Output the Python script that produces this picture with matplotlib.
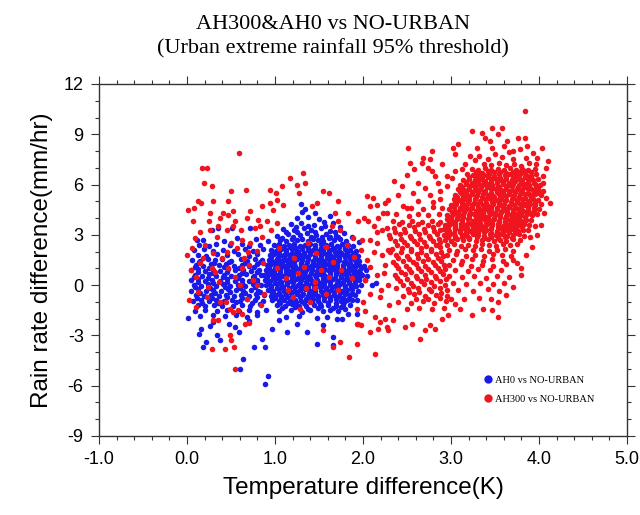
import numpy as np
import matplotlib
matplotlib.use('Agg')
import matplotlib.pyplot as plt
from matplotlib.lines import Line2D
from matplotlib.ticker import MultipleLocator

# (temperature difference K, rain rate difference mm/hr)

# AH0 vs NO-URBAN
ah0_core = [
    (1.06,2.72),(1.13,2.65),(1.19,2.78),(1.25,2.69),(1.31,2.74),(1.37,2.63),(1.43,2.77),(1.49,2.70),(1.55,2.66),(1.61,2.79),(1.67,2.68),(1.74,2.73),(1.81,2.64),
    (0.99,2.38),(1.04,2.45),(1.10,2.36),(1.16,2.42),(1.22,2.47),(1.28,2.35),(1.34,2.41),(1.40,2.46),(1.46,2.37),(1.52,2.43),(1.58,2.39),(1.64,2.48),(1.70,2.36),(1.76,2.44),(1.83,2.40),(1.89,2.35),
    (0.96,2.12),(1.01,2.06),(1.07,2.15),(1.13,2.08),(1.19,2.13),(1.25,2.05),(1.31,2.16),(1.37,2.09),(1.43,2.11),(1.49,2.04),(1.55,2.14),(1.61,2.07),(1.67,2.12),(1.73,2.06),(1.79,2.15),(1.85,2.09),(1.92,2.03),
    (0.94,1.78),(0.99,1.84),(1.04,1.75),(1.10,1.82),(1.16,1.77),(1.22,1.85),(1.28,1.79),(1.34,1.74),(1.40,1.83),(1.46,1.76),(1.52,1.81),(1.58,1.86),(1.64,1.75),(1.70,1.80),(1.76,1.84),(1.82,1.77),(1.88,1.82),(1.94,1.76),
    (0.93,1.51),(0.97,1.45),(1.02,1.54),(1.07,1.47),(1.13,1.52),(1.19,1.44),(1.25,1.55),(1.31,1.48),(1.37,1.53),(1.43,1.46),(1.49,1.51),(1.55,1.45),(1.61,1.54),(1.67,1.49),(1.73,1.52),(1.79,1.46),(1.85,1.55),(1.91,1.48),(1.96,1.43),
    (0.91,1.18),(0.96,1.24),(1.01,1.16),(1.05,1.22),(1.11,1.15),(1.17,1.23),(1.23,1.17),(1.29,1.25),(1.35,1.19),(1.41,1.14),(1.47,1.22),(1.53,1.17),(1.59,1.24),(1.65,1.15),(1.71,1.21),(1.77,1.18),(1.83,1.25),(1.89,1.16),(1.95,1.22),(2.01,1.13),
    (0.90,0.92),(0.95,0.86),(1.00,0.94),(1.06,0.88),(1.12,0.93),(1.18,0.85),(1.24,0.91),(1.30,0.87),(1.36,0.95),(1.42,0.89),(1.48,0.84),(1.54,0.93),(1.60,0.88),(1.66,0.94),(1.72,0.86),(1.78,0.91),(1.84,0.85),(1.90,0.93),(1.96,0.87),(2.03,0.90),
    (0.88,0.58),(0.93,0.64),(0.98,0.55),(1.03,0.62),(1.09,0.57),(1.15,0.65),(1.21,0.59),(1.27,0.54),(1.33,0.63),(1.39,0.56),(1.45,0.61),(1.51,0.66),(1.57,0.55),(1.63,0.60),(1.69,0.64),(1.75,0.57),(1.81,0.62),(1.87,0.56),(1.93,0.63),(1.99,0.58),(2.05,0.53),
    (0.89,0.31),(0.94,0.25),(1.00,0.34),(1.06,0.27),(1.12,0.32),(1.18,0.24),(1.24,0.35),(1.30,0.28),(1.36,0.31),(1.42,0.26),(1.48,0.33),(1.54,0.25),(1.60,0.30),(1.66,0.36),(1.72,0.27),(1.78,0.32),(1.84,0.24),(1.90,0.34),(1.96,0.28),(2.02,0.31),
    (0.90,0.02),(0.96,-0.05),(1.02,0.04),(1.08,-0.03),(1.14,0.05),(1.20,-0.04),(1.26,0.01),(1.32,-0.06),(1.38,0.03),(1.44,-0.02),(1.50,0.06),(1.56,-0.05),(1.62,0.02),(1.68,-0.03),(1.74,0.04),(1.80,-0.06),(1.86,0.01),(1.92,-0.04),(1.98,0.03),
    (0.92,-0.28),(0.98,-0.34),(1.04,-0.26),(1.10,-0.33),(1.16,-0.27),(1.22,-0.35),(1.28,-0.29),(1.34,-0.24),(1.40,-0.32),(1.46,-0.27),(1.52,-0.35),(1.58,-0.28),(1.64,-0.31),(1.70,-0.25),(1.76,-0.33),(1.82,-0.29),(1.88,-0.26),(1.94,-0.34),
    (0.95,-0.62),(1.01,-0.56),(1.07,-0.64),(1.13,-0.58),(1.19,-0.63),(1.25,-0.55),(1.31,-0.61),(1.37,-0.65),(1.43,-0.57),(1.49,-0.62),(1.55,-0.56),(1.61,-0.64),(1.67,-0.59),(1.73,-0.63),(1.79,-0.55),(1.85,-0.61),(1.91,-0.58),
    (0.97,-0.88),(1.04,-0.94),(1.10,-0.86),(1.17,-0.92),(1.23,-0.87),(1.30,-0.95),(1.36,-0.89),(1.43,-0.84),(1.49,-0.93),(1.56,-0.88),(1.62,-0.91),(1.69,-0.85),(1.75,-0.94),(1.82,-0.89),(1.88,-0.86),
    (1.02,-1.18),(1.11,-1.24),(1.19,-1.15),(1.27,-1.22),(1.35,-1.26),(1.44,-1.17),(1.52,-1.23),(1.60,-1.19),(1.69,-1.25),(1.77,-1.16),(1.85,-1.21),
    (1.05,-1.52),(1.18,-1.48),(1.31,-1.58),(1.40,-1.46),(1.55,-1.55),(1.63,-1.49),(1.72,-1.57),(1.80,-1.45),
    (1.12,-1.92),(1.27,-1.85),(1.48,-1.96),(1.59,-1.88),(1.70,-2.02),
]
ah0_core_fill = [
    (1.03,2.27),(1.10,2.22),(1.17,2.29),(1.24,2.20),(1.31,2.26),(1.38,2.23),(1.45,2.28),(1.52,2.21),(1.59,2.26),(1.66,2.19),(1.73,2.27),(1.80,2.22),
    (0.98,1.96),(1.05,1.91),(1.12,1.98),(1.19,1.93),(1.26,1.97),(1.33,1.90),(1.40,1.96),(1.47,1.92),(1.54,1.99),(1.61,1.94),(1.68,1.97),(1.75,1.91),(1.82,1.96),(1.90,1.93),
    (0.96,1.66),(1.03,1.62),(1.10,1.68),(1.17,1.61),(1.24,1.67),(1.31,1.63),(1.38,1.69),(1.45,1.62),(1.52,1.66),(1.59,1.60),(1.66,1.68),(1.73,1.63),(1.80,1.67),(1.87,1.61),
    (0.94,1.36),(1.01,1.31),(1.08,1.38),(1.15,1.33),(1.22,1.37),(1.29,1.30),(1.36,1.36),(1.43,1.32),(1.50,1.39),(1.57,1.34),(1.64,1.37),(1.71,1.31),(1.78,1.36),(1.85,1.33),(1.92,1.38),
    (0.93,1.06),(1.00,1.01),(1.07,1.08),(1.14,1.03),(1.21,1.07),(1.28,1.00),(1.35,1.06),(1.42,1.02),(1.49,1.09),(1.56,1.04),(1.63,1.07),(1.70,1.01),(1.77,1.06),(1.84,1.03),(1.91,1.08),(1.98,1.02),
    (0.92,0.76),(0.99,0.71),(1.06,0.78),(1.13,0.73),(1.20,0.77),(1.27,0.70),(1.34,0.76),(1.41,0.72),(1.48,0.79),(1.55,0.74),(1.62,0.77),(1.69,0.71),(1.76,0.76),(1.83,0.73),(1.90,0.78),(1.97,0.72),
    (0.91,0.46),(0.98,0.41),(1.05,0.48),(1.12,0.43),(1.19,0.47),(1.26,0.40),(1.33,0.46),(1.40,0.42),(1.47,0.49),(1.54,0.44),(1.61,0.47),(1.68,0.41),(1.75,0.46),(1.82,0.43),(1.89,0.48),(1.96,0.42),
    (0.93,0.16),(1.00,0.11),(1.07,0.18),(1.14,0.13),(1.21,0.17),(1.28,0.10),(1.35,0.16),(1.42,0.12),(1.49,0.19),(1.56,0.14),(1.63,0.17),(1.70,0.11),(1.77,0.16),(1.84,0.13),(1.91,0.18),
    (0.95,-0.14),(1.02,-0.19),(1.09,-0.12),(1.16,-0.17),(1.23,-0.13),(1.30,-0.20),(1.37,-0.14),(1.44,-0.18),(1.51,-0.11),(1.58,-0.16),(1.65,-0.13),(1.72,-0.19),(1.79,-0.14),(1.86,-0.17),
    (0.97,-0.44),(1.04,-0.49),(1.11,-0.42),(1.18,-0.47),(1.25,-0.43),(1.32,-0.50),(1.39,-0.44),(1.46,-0.48),(1.53,-0.41),(1.60,-0.46),(1.67,-0.43),(1.74,-0.49),(1.81,-0.44),(1.88,-0.47),
    (1.00,-0.74),(1.07,-0.79),(1.14,-0.72),(1.21,-0.77),(1.28,-0.73),(1.35,-0.80),(1.42,-0.74),(1.49,-0.78),(1.56,-0.71),(1.63,-0.76),(1.70,-0.73),(1.77,-0.79),(1.84,-0.74),
    (1.06,-1.04),(1.15,-1.09),(1.24,-1.02),(1.33,-1.07),(1.42,-1.03),(1.51,-1.10),(1.60,-1.04),(1.69,-1.08),(1.78,-1.01),
    (1.08,-1.36),(1.23,-1.33),(1.37,-1.40),(1.49,-1.35),(1.66,-1.38),(1.75,-1.32),
]
ah0_upper = [
    (1.02,2.95),(1.15,3.05),(1.28,2.98),(1.36,3.12),(1.47,3.02),(1.58,3.08),(1.69,2.96),(1.78,3.10),
    (1.09,3.35),(1.22,3.28),(1.33,3.42),(1.41,3.30),(1.52,3.38),(1.63,3.25),(1.74,3.45),
    (1.18,3.65),(1.30,3.72),(1.44,3.60),(1.56,3.75),(1.66,3.68),(1.25,4.00),(1.38,4.05),(1.50,3.95),
    (1.62,4.10),(1.31,4.35),(1.45,4.30),(1.30,4.85),(1.34,4.55),(1.88,2.85),(1.95,2.55),(0.92,2.62),
    (1.08,2.84),(1.21,2.88),(1.41,2.86),(1.53,2.90),(1.63,2.87),(1.72,2.85),(1.12,3.18),(1.25,3.16),
    (1.46,3.20),(1.57,3.52),(1.37,3.55),(1.24,3.48),(1.68,3.20),
]
ah0_left = [
    (0.28,3.30),(0.35,3.40),(0.51,3.40),(0.72,3.40),
    (0.11,2.70),(0.18,2.68),(0.42,2.65),(0.57,2.80),(0.78,2.75),
    (0.14,2.42),(0.25,2.35),(0.33,2.45),(0.49,2.38),(0.62,2.44),(0.70,2.33),(0.83,2.40),
    (0.08,2.08),(0.19,2.15),(0.30,2.05),(0.41,2.12),(0.53,2.02),(0.66,2.14),(0.75,2.06),(0.86,2.16),
    (0.12,1.82),(0.22,1.74),(0.34,1.85),(0.45,1.78),(0.58,1.83),(0.71,1.76),(0.80,1.86),
    (0.06,1.52),(0.15,1.45),(0.24,1.55),(0.32,1.48),(0.40,1.56),(0.50,1.44),(0.61,1.53),(0.68,1.47),(0.77,1.55),(0.85,1.50),
    (0.10,1.22),(0.18,1.15),(0.27,1.25),(0.36,1.18),(0.44,1.24),(0.53,1.14),(0.62,1.21),(0.71,1.16),(0.79,1.25),
    (0.05,0.88),(0.13,0.94),(0.21,0.86),(0.29,0.92),(0.38,0.85),(0.47,0.95),(0.55,0.88),(0.64,0.93),(0.73,0.86),(0.82,0.91),
    (0.09,0.62),(0.17,0.55),(0.25,0.64),(0.33,0.57),(0.42,0.63),(0.50,0.54),(0.59,0.61),(0.67,0.66),(0.76,0.56),(0.84,0.63),
    (0.04,0.28),(0.12,0.34),(0.20,0.25),(0.28,0.32),(0.37,0.26),(0.45,0.35),(0.54,0.27),(0.62,0.33),(0.71,0.24),(0.80,0.30),
    (0.08,0.03),(0.16,-0.05),(0.24,0.04),(0.33,-0.03),(0.41,0.05),(0.49,-0.06),(0.58,0.02),(0.66,-0.04),(0.75,0.05),(0.84,-0.02),
    (0.05,-0.32),(0.13,-0.26),(0.22,-0.34),(0.30,-0.27),(0.39,-0.33),(0.47,-0.25),(0.56,-0.31),(0.64,-0.36),(0.73,-0.28),(0.81,-0.33),
    (0.10,-0.58),(0.19,-0.64),(0.27,-0.56),(0.36,-0.62),(0.44,-0.57),(0.53,-0.65),(0.61,-0.59),(0.70,-0.63),(0.78,-0.55),(0.87,-0.61),
    (0.07,-0.92),(0.16,-0.86),(0.25,-0.94),(0.33,-0.88),(0.42,-0.95),(0.51,-0.87),(0.60,-0.93),(0.68,-0.85),(0.77,-0.91),(0.86,-0.96),
    (0.12,-1.18),(0.21,-1.25),(0.31,-1.16),(0.40,-1.22),(0.52,-1.27),(0.63,-1.19),(0.72,-1.24),(0.83,-1.15),
    (0.09,-1.52),(0.20,-1.47),(0.34,-1.56),(0.45,-1.49),(0.59,-1.55),(0.70,-1.46),(0.80,-1.58),(0.90,-1.50),
    (0.15,-1.82),(0.29,-1.76),(0.43,-1.85),(0.56,-1.78),(0.68,-1.88),(0.79,-1.80),
    (0.14,1.36),(0.31,1.34),(0.48,1.38),(0.66,1.33),(0.83,1.37),
    (0.09,1.06),(0.25,1.03),(0.42,1.08),(0.59,1.02),(0.76,1.07),
    (0.13,0.76),(0.30,0.73),(0.46,0.78),(0.63,0.72),(0.80,0.77),
    (0.08,0.46),(0.24,0.43),(0.41,0.48),(0.58,0.42),(0.75,0.47),
    (0.12,0.16),(0.29,0.13),(0.45,0.18),(0.62,0.12),(0.79,0.17),
    (0.09,-0.14),(0.26,-0.17),(0.43,-0.12),(0.60,-0.18),(0.77,-0.13),
    (0.15,-0.44),(0.32,-0.47),(0.49,-0.42),(0.66,-0.48),(0.83,-0.43),
    (0.11,-0.74),(0.28,-0.77),(0.45,-0.72),(0.62,-0.78),(0.79,-0.73),
    (0.17,-1.04),(0.35,-1.07),(0.56,-1.02),(0.74,-1.08),
]
ah0_tail = [
    (0.01,-1.95),(0.16,-2.60),(0.14,-2.90),(0.22,-3.40),(0.18,-3.70),(0.34,-3.00),(0.38,-3.30),(0.59,-2.80),
    (0.64,-4.40),(0.60,-5.00),(0.76,-3.70),(0.85,-3.20),(0.89,-3.70),(0.92,-5.40),(0.89,-5.90),(0.30,-2.20),
    (0.48,-2.30),(0.71,-2.15),(0.26,-2.45),(0.55,-2.50),(1.36,-2.80),(1.14,-2.80),(1.48,-3.50),(1.66,-3.10),
    (1.66,-3.60),(1.76,-2.00),(1.83,-1.70),(1.93,-1.70),(0.97,-2.60),(1.93,-0.90),(2.10,0.00),(2.15,0.10),
    (1.25,-2.30),(1.55,-2.40),(1.05,-2.10),
]

# AH300 vs NO-URBAN
ah300_left = [
    (0.59,7.9),(0.17,7.0),(0.23,7.0),(0.19,6.1),(0.28,5.9),(0.67,5.7),(0.50,5.6),(0.94,5.7),(1.01,5.5),
    (0.30,5.0),(0.12,5.0),(0.16,4.9),(0.01,4.5),(0.08,4.6),(0.47,5.0),(0.85,4.7),(0.94,4.9),(0.72,4.4),
    (0.26,4.3),(0.41,4.3),(0.52,4.4),(0.07,3.8),(0.25,3.8),(0.38,4.0),(0.47,4.2),(0.55,3.8),(0.68,4.0),
    (0.81,3.9),(0.91,3.8),(1.02,3.7),(0.15,3.2),(0.09,2.8),(0.26,3.3),(0.35,3.5),(0.45,3.3),(0.52,3.5),
    (0.61,3.3),(0.77,3.4),(0.83,3.5),(0.95,3.3),(0.06,2.2),(0.34,2.9),(0.63,2.7),(0.72,2.5),(0.85,2.9),
    (0.30,1.9),(0.18,1.6),(0.45,2.0),(0.57,2.2),(0.69,1.95),(0.80,2.05),
    (1.32,6.7),(1.17,6.4),(1.08,5.9),(1.25,6.0),(1.34,6.1),(1.27,5.5),(1.55,5.6),(1.61,5.5),(1.72,5.0),
    (1.48,4.9),(1.42,4.7),(1.09,4.8),(1.02,5.1),(1.83,4.3),(2.05,5.3),(2.11,5.2),(2.16,4.8),(2.08,4.7),
    (2.25,4.9),(2.27,4.3),(2.01,4.0),(1.94,3.8),(2.06,3.8),(2.17,4.0),(2.22,3.3),(2.16,3.2),(2.08,2.7),
    (2.16,2.5),(2.28,2.1),(1.89,2.8),(1.99,2.7),(1.68,4.3),(1.72,3.8),(1.74,3.3),(1.65,3.5),(0.98,4.5),
]
ah300_mixed = [
    (1.05,2.2),(1.22,1.6),(1.38,2.5),(1.47,1.9),(1.58,2.3),(1.33,1.1),(1.52,0.9),(1.66,1.4),(1.12,0.4),
    (1.26,0.7),(1.45,0.2),(1.61,0.5),(1.75,0.9),(1.35,-0.2),(1.45,-0.2),(1.58,-0.5),(1.20,-0.7),(1.72,-0.3),
    (1.88,0.4),(1.90,1.7),(1.82,2.4),(1.02,1.0),(1.15,-0.3),(1.55,-2.7),(1.66,-3.7),(1.74,-3.4),(1.93,-3.5),
    (1.84,-4.3),(2.14,-4.1),(1.93,-2.3),(1.98,-2.35),(1.28,-1.4),(1.40,-1.0),
    (0.15,1.3),(0.47,1.0),(0.62,1.05),(0.70,1.2),(0.75,0.3),(0.80,0.0),(0.24,-0.1),(0.23,-0.7),(0.38,-1.0),
    (0.44,-1.0),(0.49,-1.4),(0.58,-1.5),(0.63,-1.7),(0.52,-1.6),(0.30,-2.1),(0.35,-2.1),(0.66,-2.3),(0.71,-2.25),
    (0.49,-3.0),(0.50,-3.3),(0.28,-3.8),(0.43,-3.8),(0.53,-3.7),(0.55,-5.0),(0.10,0.5),(0.32,0.8),(0.55,0.5),
    (0.40,1.6),(0.65,1.6),(0.86,1.3),(0.20,2.4),(0.50,2.5),(0.12,-0.4),(0.68,-0.8),(0.36,0.2),(0.88,-0.5),
    (0.28,1.0),(0.60,0.0),(0.10,-1.3),(0.02,-0.9),(0.04,0.9),(0.00,1.8),(0.84,-1.2),
    (2.08,1.1),(2.16,0.6),(2.24,0.7),(2.08,-0.5),(2.19,-0.7),(2.00,-1.0),(1.93,-1.4),(2.02,-1.55),(1.94,-2.3),
    (2.14,-1.9),(2.19,-2.2),(2.27,-2.5),(2.08,-2.8),(2.17,-2.6),(2.05,1.5),(2.22,1.8),(2.12,2.0),(2.25,1.2),
    (2.02,0.3),(2.28,0.0),(2.20,-0.3),(2.30,-1.2),(1.98,2.1),(2.12,3.5),
]
ah300_fringe = [
    (3.84,10.4),(3.24,9.2),(3.35,9.1),(3.47,9.4),(3.58,9.4),(3.53,9.0),(3.39,8.8),(3.76,8.8),(3.84,8.8),
    (3.86,8.3),(4.03,8.2),(3.30,8.2),(3.47,8.2),(3.60,8.3),(3.70,8.0),(3.08,8.4),(2.51,8.2),(2.78,8.0),
    (2.68,7.6),(3.02,8.2),(3.05,7.8),(2.53,7.3),(2.67,7.3),(2.76,7.5),(2.74,7.0),(2.78,6.8),(2.50,6.6),
    (2.82,6.5),(3.22,7.7),(3.32,7.7),(3.16,7.2),(3.12,6.9),(2.44,5.9),(2.57,5.5),(2.28,5.1),(2.45,4.7),
    (2.50,4.6),(2.23,4.3),(2.34,3.8),(2.27,3.4),(2.76,5.4),(2.85,6.1),(2.88,5.6),(3.01,6.4),(3.04,6.8),
    (4.05,6.1),(4.13,4.9),(3.90,2.9),(3.75,1.3),(3.70,-0.1),(3.53,-1.0),(3.53,-1.9),(3.47,-1.5),(3.36,-1.4),
    (3.24,-1.8),(2.90,-2.0),(2.76,-2.4),(2.70,-2.7),(2.65,-3.2),(2.56,-2.3),(2.48,-2.5),(2.28,-2.7),(2.34,-2.1),
    (2.25,-2.0),(2.97,-1.8),(2.82,-2.6),(3.10,-1.4),(3.62,-0.6),(3.79,0.6),(3.96,3.5),(4.00,5.5),(3.98,7.6),
    (4.08,7.0),(3.93,7.9),(3.64,8.6),(3.44,8.6),(2.35,6.2),(2.62,6.1),(2.40,5.4),(2.70,5.8),(2.95,5.9),
    (2.58,6.9),(2.90,7.2),(2.96,6.5),(4.05,6.5),(4.08,5.2),(4.06,4.3),(4.02,3.6),(3.98,3.0),(3.92,2.3),
    (3.85,1.8),(3.80,1.0),(4.10,7.4),
    (3.42,7.55),(3.58,7.62),(3.71,7.50),(3.85,7.58),(3.50,7.85),(3.66,7.95),(3.78,8.15),(3.27,7.45),
]
ah300_core = [
    (3.38,7.25),(3.46,7.14),(3.55,7.28),(3.63,7.18),(3.72,7.22),(3.80,7.12),(3.89,7.27),(3.97,7.20),
    (3.24,6.92),(3.31,6.85),(3.39,6.96),(3.46,6.88),(3.53,6.94),(3.60,6.84),(3.67,6.97),(3.74,6.89),(3.81,6.93),(3.88,6.86),(3.95,6.95),
    (3.18,6.62),(3.25,6.55),(3.31,6.66),(3.37,6.58),(3.43,6.63),(3.49,6.54),(3.55,6.65),(3.61,6.59),(3.67,6.62),(3.73,6.56),(3.79,6.67),(3.85,6.60),(3.91,6.53),(3.97,6.64),
    (3.14,6.28),(3.21,6.35),(3.27,6.26),(3.33,6.33),(3.39,6.24),(3.45,6.31),(3.51,6.36),(3.57,6.27),(3.63,6.32),(3.69,6.25),(3.75,6.34),(3.81,6.29),(3.87,6.35),(3.93,6.26),(3.99,6.31),
    (3.10,5.98),(3.17,6.04),(3.23,5.95),(3.29,6.02),(3.35,5.96),(3.41,6.05),(3.47,5.99),(3.53,5.94),(3.59,6.03),(3.65,5.97),(3.71,6.05),(3.77,5.95),(3.83,6.01),(3.89,5.96),(3.95,6.04),(4.01,5.98),
    (3.08,5.72),(3.15,5.65),(3.21,5.74),(3.27,5.67),(3.33,5.73),(3.39,5.64),(3.45,5.71),(3.51,5.76),(3.57,5.66),(3.63,5.72),(3.69,5.65),(3.75,5.74),(3.81,5.68),(3.87,5.73),(3.93,5.66),(3.99,5.71),(4.04,5.64),
    (3.05,5.38),(3.12,5.44),(3.18,5.35),(3.24,5.42),(3.30,5.36),(3.36,5.45),(3.42,5.39),(3.48,5.34),(3.54,5.43),(3.60,5.37),(3.66,5.44),(3.72,5.35),(3.78,5.41),(3.84,5.46),(3.90,5.36),(3.96,5.42),(4.02,5.37),
    (3.03,5.12),(3.09,5.05),(3.15,5.14),(3.21,5.07),(3.27,5.13),(3.33,5.04),(3.39,5.11),(3.45,5.16),(3.51,5.06),(3.57,5.12),(3.63,5.05),(3.69,5.14),(3.75,5.08),(3.81,5.13),(3.87,5.04),(3.93,5.11),(3.99,5.06),
    (3.00,4.78),(3.06,4.84),(3.12,4.75),(3.18,4.82),(3.24,4.76),(3.30,4.85),(3.36,4.79),(3.42,4.74),(3.48,4.83),(3.54,4.77),(3.60,4.84),(3.66,4.75),(3.72,4.81),(3.78,4.86),(3.84,4.76),(3.90,4.82),(3.96,4.77),(4.02,4.83),
    (2.98,4.52),(3.04,4.45),(3.10,4.54),(3.16,4.47),(3.22,4.53),(3.28,4.44),(3.34,4.51),(3.40,4.56),(3.46,4.46),(3.52,4.52),(3.58,4.45),(3.64,4.54),(3.70,4.48),(3.76,4.53),(3.82,4.44),(3.88,4.51),(3.94,4.46),(4.00,4.55),
    (2.96,4.18),(3.02,4.24),(3.08,4.15),(3.14,4.22),(3.20,4.16),(3.26,4.25),(3.32,4.19),(3.38,4.14),(3.44,4.23),(3.50,4.17),(3.56,4.24),(3.62,4.15),(3.68,4.21),(3.74,4.26),(3.80,4.16),(3.86,4.22),(3.92,4.17),(3.98,4.23),
    (2.95,3.92),(3.01,3.85),(3.07,3.94),(3.13,3.87),(3.19,3.93),(3.25,3.84),(3.31,3.91),(3.37,3.96),(3.43,3.86),(3.49,3.92),(3.55,3.85),(3.61,3.94),(3.67,3.88),(3.73,3.93),(3.79,3.84),(3.85,3.91),(3.91,3.86),
    (2.93,3.58),(2.99,3.64),(3.05,3.55),(3.11,3.62),(3.17,3.56),(3.23,3.65),(3.29,3.59),(3.35,3.54),(3.41,3.63),(3.47,3.57),(3.53,3.64),(3.59,3.55),(3.65,3.61),(3.71,3.66),(3.77,3.56),(3.83,3.62),(3.89,3.57),
    (2.92,3.32),(2.98,3.25),(3.04,3.34),(3.10,3.27),(3.16,3.33),(3.22,3.24),(3.28,3.31),(3.34,3.36),(3.40,3.26),(3.46,3.32),(3.52,3.25),(3.58,3.34),(3.64,3.28),(3.70,3.33),(3.76,3.24),(3.82,3.31),(3.88,3.27),
    (2.92,2.98),(2.99,3.04),(3.05,2.95),(3.12,3.02),(3.18,2.96),(3.25,3.05),(3.31,2.99),(3.38,2.94),(3.44,3.03),(3.51,2.97),(3.57,3.04),(3.64,2.95),(3.70,3.01),(3.77,3.06),(3.83,2.96),
    (2.93,2.72),(3.00,2.65),(3.07,2.74),(3.14,2.67),(3.21,2.73),(3.28,2.64),(3.35,2.71),(3.42,2.76),(3.49,2.66),(3.56,2.72),(3.63,2.65),(3.70,2.74),(3.78,2.68),
    (2.95,2.38),(3.03,2.44),(3.11,2.35),(3.19,2.42),(3.27,2.36),(3.35,2.45),(3.43,2.39),(3.51,2.34),(3.59,2.43),(3.67,2.37),(3.75,2.44),
    (2.98,2.12),(3.07,2.05),(3.16,2.14),(3.25,2.07),(3.34,2.13),(3.43,2.04),(3.52,2.11),(3.61,2.16),(3.70,2.06),
    (2.96,1.78),(3.06,1.84),(3.17,1.75),(3.27,1.82),(3.38,1.76),(3.48,1.85),(3.58,1.79),(3.68,1.74),
    (3.02,1.52),(3.13,1.45),(3.24,1.54),(3.36,1.47),(3.47,1.53),(3.59,1.44),(3.70,1.51),
    (2.98,1.18),(3.11,1.24),(3.23,1.15),(3.35,1.22),(3.48,1.16),(3.62,1.25),
    (3.05,0.92),(3.19,0.85),(3.31,0.94),(3.44,0.88),(3.57,0.93),
    (2.98,0.55),(3.12,0.48),(3.26,0.56),(3.40,0.45),(3.52,0.52),(3.66,0.47),
    (3.02,0.12),(3.17,0.05),(3.33,0.14),(3.48,0.06),(3.60,0.15),
    (3.08,-0.28),(3.25,-0.35),(3.42,-0.26),(3.55,-0.33),
    (3.15,-0.82),(3.32,-0.76),(3.45,-0.85),
]
ah300_core_fill = [
    (3.28,6.76),(3.35,6.71),(3.42,6.78),(3.49,6.73),(3.56,6.77),(3.63,6.70),(3.70,6.76),(3.77,6.72),(3.84,6.79),(3.91,6.74),
    (3.21,6.46),(3.28,6.41),(3.35,6.48),(3.42,6.43),(3.49,6.47),(3.56,6.40),(3.63,6.46),(3.70,6.42),(3.77,6.49),(3.84,6.44),(3.91,6.47),
    (3.17,6.16),(3.24,6.11),(3.31,6.18),(3.38,6.13),(3.45,6.17),(3.52,6.10),(3.59,6.16),(3.66,6.12),(3.73,6.19),(3.80,6.14),(3.87,6.17),(3.94,6.11),
    (3.13,5.86),(3.20,5.81),(3.27,5.88),(3.34,5.83),(3.41,5.87),(3.48,5.80),(3.55,5.86),(3.62,5.82),(3.69,5.89),(3.76,5.84),(3.83,5.87),(3.90,5.81),(3.97,5.86),
    (3.10,5.56),(3.17,5.51),(3.24,5.58),(3.31,5.53),(3.38,5.57),(3.45,5.50),(3.52,5.56),(3.59,5.52),(3.66,5.59),(3.73,5.54),(3.80,5.57),(3.87,5.51),(3.94,5.56),
    (3.07,5.26),(3.14,5.21),(3.21,5.28),(3.28,5.23),(3.35,5.27),(3.42,5.20),(3.49,5.26),(3.56,5.22),(3.63,5.29),(3.70,5.24),(3.77,5.27),(3.84,5.21),(3.91,5.26),
    (3.05,4.96),(3.12,4.91),(3.19,4.98),(3.26,4.93),(3.33,4.97),(3.40,4.90),(3.47,4.96),(3.54,4.92),(3.61,4.99),(3.68,4.94),(3.75,4.97),(3.82,4.91),(3.89,4.96),(3.96,4.93),
    (3.03,4.66),(3.10,4.61),(3.17,4.68),(3.24,4.63),(3.31,4.67),(3.38,4.60),(3.45,4.66),(3.52,4.62),(3.59,4.69),(3.66,4.64),(3.73,4.67),(3.80,4.61),(3.87,4.66),(3.94,4.63),
    (3.01,4.36),(3.08,4.31),(3.15,4.38),(3.22,4.33),(3.29,4.37),(3.36,4.30),(3.43,4.36),(3.50,4.32),(3.57,4.39),(3.64,4.34),(3.71,4.37),(3.78,4.31),(3.85,4.36),(3.92,4.33),
    (3.00,4.06),(3.07,4.01),(3.14,4.08),(3.21,4.03),(3.28,4.07),(3.35,4.00),(3.42,4.06),(3.49,4.02),(3.56,4.09),(3.63,4.04),(3.70,4.07),(3.77,4.01),(3.84,4.06),
    (2.98,3.76),(3.05,3.71),(3.12,3.78),(3.19,3.73),(3.26,3.77),(3.33,3.70),(3.40,3.76),(3.47,3.72),(3.54,3.79),(3.61,3.74),(3.68,3.77),(3.75,3.71),(3.82,3.76),
    (2.97,3.46),(3.04,3.41),(3.11,3.48),(3.18,3.43),(3.25,3.47),(3.32,3.40),(3.39,3.46),(3.46,3.42),(3.53,3.49),(3.60,3.44),(3.67,3.47),(3.74,3.41),(3.81,3.46),
    (2.96,3.16),(3.03,3.11),(3.10,3.18),(3.17,3.13),(3.24,3.17),(3.31,3.10),(3.38,3.16),(3.45,3.12),(3.52,3.19),(3.59,3.14),(3.66,3.17),(3.73,3.11),
    (2.97,2.86),(3.05,2.81),(3.13,2.88),(3.21,2.83),(3.29,2.87),(3.37,2.80),(3.45,2.86),(3.53,2.82),(3.61,2.89),(3.69,2.84),
]
ah300_diag = [
    (2.62,5.02),(2.79,4.95),(2.88,5.15),
    (2.55,4.62),(2.68,4.55),(2.80,4.66),(2.90,4.58),
    (2.38,4.22),(2.52,4.15),(2.63,4.26),(2.74,4.18),(2.86,4.24),
    (2.44,3.78),(2.56,3.85),(2.67,3.76),(2.78,3.83),(2.88,3.74),
    (2.35,3.42),(2.47,3.35),(2.58,3.44),(2.69,3.37),(2.80,3.45),(2.87,3.30),
    (2.30,2.98),(2.42,3.05),(2.53,2.96),(2.64,3.03),(2.75,2.95),(2.84,3.06),
    (2.36,2.62),(2.47,2.55),(2.58,2.64),(2.69,2.57),(2.80,2.63),(2.88,2.55),
    (2.33,2.18),(2.44,2.24),(2.55,2.15),(2.66,2.22),(2.77,2.16),(2.87,2.25),
    (2.38,1.82),(2.50,1.75),(2.61,1.84),(2.72,1.77),(2.83,1.85),(2.91,1.72),
    (2.34,1.38),(2.46,1.45),(2.57,1.36),(2.68,1.43),(2.79,1.37),(2.89,1.44),
    (2.40,1.02),(2.52,0.95),(2.63,1.04),(2.74,0.97),(2.85,1.05),(2.93,0.96),
    (2.36,0.58),(2.48,0.65),(2.60,0.56),(2.71,0.63),(2.82,0.57),(2.91,0.64),
    (2.42,0.22),(2.54,0.15),(2.66,0.24),(2.77,0.17),(2.88,0.25),
    (2.38,-0.18),(2.51,-0.25),(2.63,-0.16),(2.75,-0.23),(2.87,-0.15),(2.96,-0.28),
    (2.45,-0.62),(2.58,-0.55),(2.70,-0.64),(2.83,-0.57),(2.95,-0.66),
    (2.40,-0.98),(2.55,-1.05),(2.68,-0.96),(2.81,-1.04),(2.94,-0.95),(3.05,-1.10),
    (2.50,-1.42),(2.64,-1.35),(2.78,-1.45),(2.92,-1.38),
    (2.41,3.62),(2.52,3.58),(2.63,3.65),(2.74,3.57),(2.85,3.63),
    (2.36,3.20),(2.48,3.17),(2.59,3.24),(2.70,3.15),(2.81,3.22),
    (2.31,2.80),(2.43,2.77),(2.54,2.84),(2.65,2.76),(2.76,2.82),(2.86,2.78),
    (2.39,2.40),(2.50,2.37),(2.61,2.44),(2.72,2.36),(2.83,2.42),
    (2.31,2.00),(2.43,1.97),(2.55,2.04),(2.66,1.96),(2.77,2.02),(2.89,1.98),
    (2.40,1.60),(2.52,1.57),(2.63,1.64),(2.74,1.56),(2.85,1.62),
    (2.37,1.20),(2.49,1.17),(2.60,1.24),(2.71,1.16),(2.82,1.22),(2.92,1.19),
    (2.43,0.80),(2.55,0.77),(2.66,0.84),(2.77,0.76),(2.88,0.82),
    (2.39,0.40),(2.50,0.37),(2.61,0.44),(2.72,0.36),(2.83,0.42),(2.94,0.38),
    (2.45,0.00),(2.57,-0.03),(2.69,0.04),(2.81,-0.04),(2.93,0.02),
    (2.52,-0.40),(2.64,-0.43),(2.77,-0.36),(2.89,-0.44),
    (2.60,-0.80),(2.74,-0.83),(2.87,-0.76),(3.00,-0.84),
]

x_ticks = [-1.0, 0.0, 1.0, 2.0, 3.0, 4.0, 5.0]
y_ticks = [12, 9, 6, 3, 0, -3, -6, -9]

BLUE = '#1a1ae8'
RED = '#f0141e'

ah0 = np.array(ah0_core + ah0_core_fill + ah0_upper + ah0_left + ah0_tail)
ah300 = np.array(ah300_left + ah300_mixed + ah300_fringe + ah300_core + ah300_core_fill + ah300_diag)

fig = plt.figure(figsize=(6.4, 5.15), dpi=100)
ax = fig.add_axes([0.1547, 0.1534, 0.825, 0.6835])

ax.scatter(ah0[:, 0], ah0[:, 1], s=16, color=BLUE, linewidths=0, zorder=3)
ax.scatter(ah300[:, 0], ah300[:, 1], s=16, color=RED, linewidths=0, zorder=3)

ax.set_xlim(-1.0, 5.0)
ax.set_ylim(-9, 12)
ax.set_xticks(x_ticks)
ax.set_xticklabels([f"{t:.1f}" for t in x_ticks])
ax.set_yticks(y_ticks)
ax.set_yticklabels([str(t) for t in y_ticks])
ax.xaxis.set_minor_locator(MultipleLocator(0.2))
ax.yaxis.set_minor_locator(MultipleLocator(1))
ax.tick_params(which='both', direction='out', top=True, right=True,
               labelsize=13, width=0.8, color='#333333')
ax.tick_params(which='major', length=6, pad=5)
ax.tick_params(which='minor', length=3)
for lab in ax.get_xticklabels() + ax.get_yticklabels():
    lab.set_family('Liberation Sans')
for sp in ax.spines.values():
    sp.set_linewidth(1.0)
    sp.set_color('#333333')

ax.set_xlabel("Temperature difference(K)", fontsize=17.5, family='Liberation Sans', labelpad=6)
ax.set_ylabel("Rain rate difference(mm/hr)", fontsize=17.5, family='Liberation Sans', labelpad=8)

fig.text(0.52, 0.953, "AH300&AH0 vs NO-URBAN", ha='center', va='center',
         fontsize=16, family='Liberation Serif')
fig.text(0.52, 0.905, "(Urban extreme rainfall 95% threshold)", ha='center', va='center',
         fontsize=16, family='Liberation Serif')

handles = [
    Line2D([], [], ls='none', marker='o', markersize=6, color=BLUE, markeredgewidth=0, label='AH0 vs NO-URBAN'),
    Line2D([], [], ls='none', marker='o', markersize=6, color=RED, markeredgewidth=0, label='AH300 vs NO-URBAN'),
]
ax.legend(handles=handles, loc='upper left', bbox_to_anchor=(0.728, 0.172), frameon=False,
          prop={'family': 'Liberation Serif', 'size': 7.5}, handlelength=0.8,
          handletextpad=0.3, labelspacing=0.95, borderpad=0, borderaxespad=0)

fig.savefig('out.png', dpi=100)
